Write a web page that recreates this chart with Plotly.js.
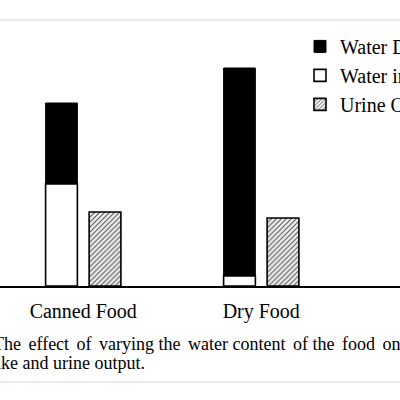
<!DOCTYPE html>
<html><head><meta charset="utf-8">
<script src="https://cdn.plot.ly/plotly-3.0.1.min.js"></script>
<style>html,body{margin:0;padding:0;background:#fff;overflow:hidden;} #chart{width:400px;height:400px;}</style>
</head><body><div id="chart"></div>
<script>
// ---- data (arbitrary units; no y axis is shown) ----
const categories = ['Canned Food', 'Dry Food'];
const seriesNames = ['Water Drunk', 'Water in Food', 'Urine Output'];
const waterInFood = [102, 10];
const waterDrunk = [81, 208];
const urineOutput = [74, 68];
// caption (the first line is justified in the source, hence the extra six-per-em spaces)
const captionLine1 = 'The\u2006 effect\u2006 of\u2006 varying the\u2006 water content\u2006 of the\u2006 food\u2006 on water in-';
const captionLine2 = 'take and urine output.';

const serif = '"Liberation Serif", "Times New Roman", serif';

const traces = [
  {
    type: 'bar', name: seriesNames[0], x: categories, y: waterDrunk, base: waterInFood,
    offsetgroup: 'intake',
    marker: {color: '#000000', line: {color: '#000000', width: 1}},
    hoverinfo: 'skip'
  },
  {
    type: 'bar', name: seriesNames[1], x: categories, y: waterInFood,
    offsetgroup: 'intake',
    marker: {color: '#ffffff', line: {color: '#000000', width: 1.6}},
    hoverinfo: 'skip'
  },
  {
    type: 'bar', name: seriesNames[2], x: categories, y: urineOutput,
    offsetgroup: 'urine',
    marker: {
      color: '#eeeeee',
      line: {color: '#000000', width: 1.6},
      pattern: {shape: '/', fgcolor: '#555555', bgcolor: '#eeeeee', size: 3.5, solidity: 0.3}
    },
    hoverinfo: 'skip'
  }
];

const layout = {
  width: 400, height: 400,
  margin: {l: 0, r: 0, t: 20, b: 114, pad: 0, autoexpand: false},
  paper_bgcolor: '#ffffff', plot_bgcolor: '#ffffff',
  barmode: 'group', bargap: 0.511, bargroupgap: 0.27,
  showlegend: true,
  legend: {
    x: 0.75, xanchor: 'left', y: 0.974, yanchor: 'top',
    font: {family: serif, size: 20, color: '#000'},
    bgcolor: 'rgba(0,0,0,0)', borderwidth: 0, traceorder: 'normal',
    itemclick: false, itemdoubleclick: false
  },
  xaxis: {
    type: 'category', range: [-0.4677, 1.7795], fixedrange: true,
    showline: true, linecolor: '#000', linewidth: 1.6, ticks: '',
    ticklabelstandoff: 6,
    showgrid: false, zeroline: false,
    tickfont: {family: serif, size: 20, color: '#000'}
  },
  yaxis: {range: [0, 266], visible: false, fixedrange: true},
  font: {family: serif, color: '#000'},
  shapes: [
    {type: 'line', xref: 'paper', yref: 'paper', x0: -0.1, x1: 1.1, y0: 1, y1: 1,
     line: {color: '#e2e2e2', width: 1.5}},
    {type: 'line', xref: 'paper', yref: 'paper', x0: -0.1, x1: 1.1, y0: -0.361, y1: -0.361,
     line: {color: '#e2e2e2', width: 1.5}}
  ],
  annotations: [
    {text: captionLine1, xref: 'paper', yref: 'paper', x: 0, y: -0.218,
     xanchor: 'left', yanchor: 'middle', xshift: -9, showarrow: false,
     font: {family: serif, size: 18, color: '#000'}},
    {text: captionLine2, xref: 'paper', yref: 'paper', x: 0, y: -0.289,
     xanchor: 'left', yanchor: 'middle', xshift: -14, showarrow: false,
     font: {family: serif, size: 18, color: '#000'}}
  ]
};

Plotly.newPlot('chart', traces, layout, {displayModeBar: false, staticPlot: true});
</script>
</body></html>
